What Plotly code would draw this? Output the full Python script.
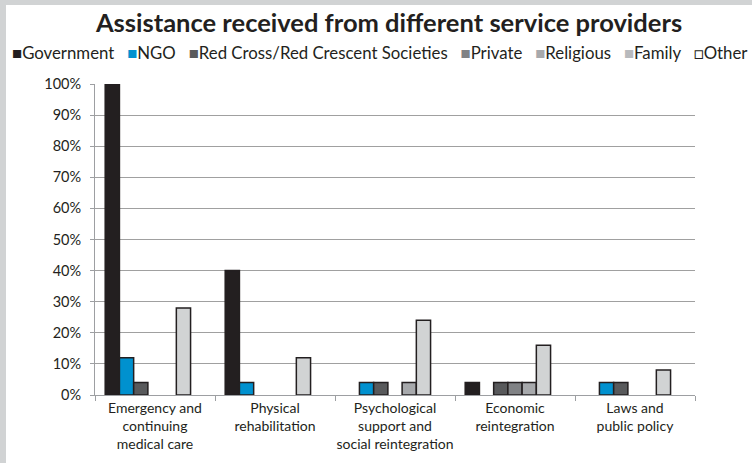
import plotly.graph_objects as go

# Service areas (x categories) and share of assistance per provider
categories = [
    "Emergency and<br>continuing<br>medical care",
    "Physical<br>rehabilitation",
    "Psychological<br>support and<br>social reintegration",
    "Economic<br>reintegration",
    "Laws and<br>public policy",
]
government = [1.00, 0.40, 0.00, 0.04, 0.00]
ngo = [0.12, 0.04, 0.04, 0.00, 0.04]
red_cross = [0.04, 0.00, 0.04, 0.04, 0.04]
private = [0.00, 0.00, 0.00, 0.04, 0.00]
religious = [0.00, 0.00, 0.04, 0.04, 0.00]
family = [0.28, 0.12, 0.24, 0.16, 0.08]
other = [0.00, 0.00, 0.00, 0.00, 0.00]

series_names = ["Government", "NGO", "Red Cross/Red Crescent Societies",
                "Private", "Religious", "Family", "Other"]
series_values = [government, ngo, red_cross, private, religious, family, other]
series_colors = ["#231f20", "#0091cf", "#58595b", "#808285", "#a7a9ac", "#d1d3d4", "#ffffff"]
legend_glyphs = ["■", "■", "■", "■", "■", "■", "□"]

y_ticks = [i / 10 for i in range(11)]

W, H = 752, 463
L, R, T, B = 95, 57, 84, 68
FONT = "Lato, 'Gill Sans', 'Open Sans', sans-serif"
INK = "#231f20"

fig = go.Figure()
for name, vals, col in zip(series_names, series_values, series_colors):
    fig.add_trace(go.Bar(
        name=name,
        x=categories,
        y=[v if v > 0 else None for v in vals],
        marker=dict(color=col, line=dict(color=INK, width=1.5)),
        showlegend=False,
    ))

# Legend drawn as one line of coloured square glyphs followed by the names
legend_parts = []
for name, col, glyph in zip(series_names, series_colors, legend_glyphs):
    gcol = INK if glyph == "□" else (col if col != "#d1d3d4" else "#b8babd")
    legend_parts.append(f"<span style='color:{gcol}'>{glyph}</span>{name}")
legend_text = "&nbsp;&nbsp;&nbsp;".join(legend_parts)

pw, ph = W - L - R, H - T - B


def px_x(p):
    return (p - L) / pw


def px_y(p):
    return 1 - (p - T) / ph


fig.update_layout(
    width=W, height=H,
    margin=dict(l=L, r=R, t=T, b=B, autoexpand=False),
    paper_bgcolor="white", plot_bgcolor="white",
    barmode="group", bargap=0.17, bargroupgap=0,
    font=dict(family=FONT, color=INK, size=14),
    title=dict(
        text="<b>Assistance received from different service providers</b>",
        x=389 / W, xref="container", xanchor="center",
        y=1 - 23.5 / H, yref="container", yanchor="middle",
        font=dict(size=25.5, family=FONT, color=INK),
    ),
    xaxis=dict(
        showline=True, linecolor="#9d9fa2", linewidth=1,
        ticks="outside", tickson="boundaries", ticklen=5, tickcolor="#9d9fa2",
        tickfont=dict(size=14, color=INK), showgrid=False,
        tickangle=0, automargin=False,
    ),
    yaxis=dict(
        range=[0, 1], tickvals=y_ticks, tickformat=".0%",
        showline=True, linecolor="#9d9fa2", linewidth=1,
        ticks="outside", ticklen=4, tickcolor="#9d9fa2",
        gridcolor="#a0a0a0", gridwidth=1,
        tickfont=dict(size=14.5, color=INK), ticklabelstandoff=6,
        zeroline=False, automargin=False,
    ),
    annotations=[dict(
        text=legend_text, xref="paper", yref="paper",
        x=px_x(379), y=px_y(52.5), xanchor="center", yanchor="middle",
        showarrow=False, font=dict(size=16.8, family=FONT, color=INK),
    )],
    shapes=[
        # grey frame along the top and left edges
        dict(type="rect", xref="paper", yref="paper",
             x0=px_x(0), x1=px_x(W), y0=px_y(5), y1=px_y(0),
             fillcolor="#d1d3d4", line=dict(width=0), layer="below"),
        dict(type="rect", xref="paper", yref="paper",
             x0=px_x(0), x1=px_x(6), y0=px_y(H), y1=px_y(0),
             fillcolor="#d1d3d4", line=dict(width=0), layer="below"),
    ],
)

fig.write_html("out.html")
